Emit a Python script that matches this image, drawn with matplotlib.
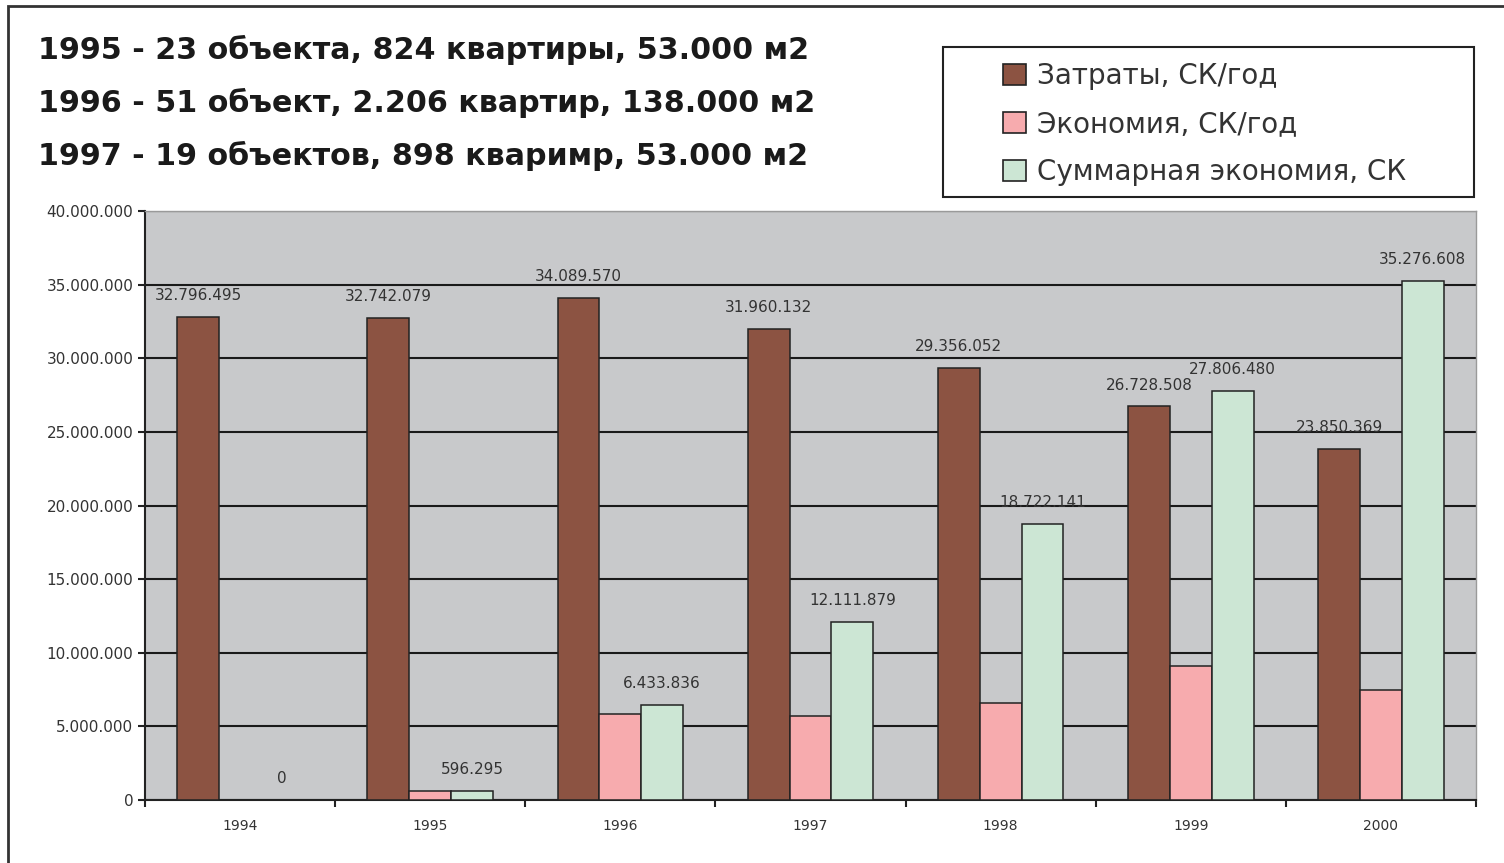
import matplotlib.pyplot as plt
from matplotlib.patches import Rectangle
from matplotlib.ticker import FuncFormatter, MultipleLocator, FixedLocator
import numpy as np

years = ['1994', '1995', '1996', '1997', '1998', '1999', '2000']
costs = [32796495, 32742079, 34089570, 31960132, 29356052, 26728508, 23850369]
savings = [0, 596295, 5837541, 5678043, 6610262, 9084339, 7470128]
total_savings = [0, 596295, 6433836, 12111879, 18722141, 27806480, 35276608]

series_names = ['Затраты, СК/год', 'Экономия, СК/год', 'Суммарная экономия, СК']
colors = ['#8c5342', '#f7abae', '#cce6d4']

header = ['1995 - 23 объекта, 824 квартиры, 53.000 м2',
          '1996 - 51 объект, 2.206 квартир, 138.000 м2',
          '1997 - 19 объектов, 898 кваримр, 53.000 м2']


def dots(v, pos=None):
    return '{:,}'.format(int(v)).replace(',', '.')


fig = plt.figure(figsize=(15.04, 8.63), dpi=100)
ax = fig.add_axes([145 / 1504, 1 - 800 / 863, (1476 - 145) / 1504, (800 - 211) / 863])
ax.set_facecolor('#c8c9cb')

x = np.arange(len(years))
w = 0.22
bars = []
for i, (vals, c) in enumerate(zip([costs, savings, total_savings], colors)):
    b = ax.bar(x + (i - 1) * w, vals, w, color=c, edgecolor='#222222', linewidth=1.1,
               zorder=3, label=series_names[i])
    bars.append(b)

# value labels: costs and cumulative savings
for b, vals in [(bars[0], costs), (bars[2], total_savings)]:
    for rect, v in zip(b, vals):
        ax.annotate(dots(v), (rect.get_x() + rect.get_width() / 2, v),
                    xytext=(0, 10), textcoords='offset points', ha='center', va='bottom',
                    fontsize=11, color='#333333', zorder=5)

ax.set_ylim(0, 40000000)
ax.set_xlim(-0.5, len(years) - 0.5)
ax.yaxis.set_major_locator(MultipleLocator(5000000))
ax.yaxis.set_major_formatter(FuncFormatter(dots))
ax.grid(axis='y', color='#1a1a1a', linewidth=1.5, zorder=1)
ax.set_axisbelow(True)

ax.set_xticks(x)
ax.set_xticklabels(years)
ax.xaxis.set_minor_locator(FixedLocator(np.arange(-0.5, len(years), 1.0)))
ax.tick_params(axis='x', which='major', length=0, pad=14, labelsize=10, labelcolor='#333333')
ax.tick_params(axis='x', which='minor', length=5, width=1.5, color='#222222', direction='out')
ax.tick_params(axis='y', length=5, width=1.5, color='#222222', labelsize=11, labelcolor='#333333')

for s in ['top', 'right']:
    ax.spines[s].set_color('#9a9a9a')
    ax.spines[s].set_linewidth(1)
for s in ['left', 'bottom']:
    ax.spines[s].set_color('#222222')
    ax.spines[s].set_linewidth(1.5)

# header lines
for k, line in enumerate(header):
    fig.text(38 / 1504, 1 - (50 + 53 * k) / 863, line, fontsize=21.7, fontweight='bold',
             family='DejaVu Sans', color='#1a1a1a', va='center', ha='left')

# legend box
fig.patches.append(Rectangle((943 / 1504, 1 - 197 / 863), (1474 - 943) / 1504, 150 / 863,
                             transform=fig.transFigure, fill=False, edgecolor='#222222',
                             linewidth=1.5))
handles = [Rectangle((0, 0), 1, 1, facecolor=c, edgecolor='#222222', linewidth=1.2) for c in colors]
fig.legend(handles, series_names, loc='upper left', bbox_to_anchor=(984 / 1504, 1 - 43 / 863),
           frameon=False, fontsize=20, handlelength=0.8, handleheight=0.8, handletextpad=0.4,
           labelspacing=0.71, borderpad=0.2, labelcolor='#333333')

# outer frame
fig.patches.append(Rectangle((8 / 1504, -0.1), 1.2, 1 - 6 / 863 + 0.1, transform=fig.transFigure,
                             fill=False, edgecolor='#333333', linewidth=2, clip_on=False))

fig.savefig('out.png', dpi=100)
